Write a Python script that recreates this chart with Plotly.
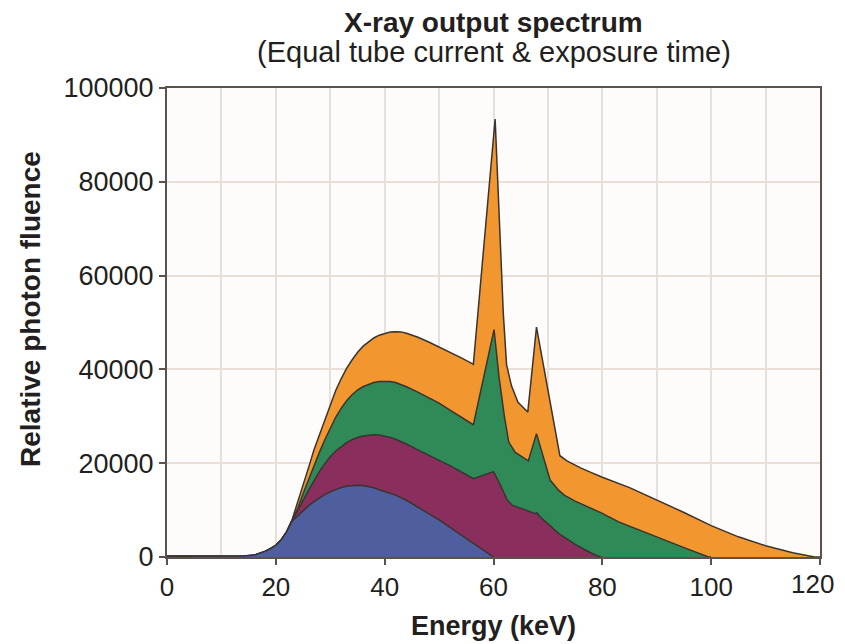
import plotly.graph_objects as go

# Shared low-energy part of all spectra (keV, relative photon fluence)
rise_kev = [0, 5, 10, 14, 16, 17, 18, 19, 20, 21, 22]
rise_val = [150, 150, 150, 200, 350, 700, 1200, 1800, 2500, 3700, 5400]

# 120 kVp spectrum (orange)
kv120_kev = [23, 24, 25, 26, 27, 28, 29, 30, 31, 32, 33, 34, 35, 36, 37, 38, 39, 40, 41, 42, 43, 44, 46, 48, 50,
             52, 54, 56, 56.3, 60.3, 61.2, 61.8, 62.4, 63.3, 64.5, 66.3, 67.9, 72.2, 73.5, 76, 78, 80, 85, 90, 95,
             100, 105, 110, 115, 119, 120]
kv120_val = [8000, 11500, 15500, 19000, 22800, 26000, 29300, 32500, 35500, 38000, 40200, 42000, 43600, 44900, 45900,
             46700, 47300, 47700, 47950, 48050, 48000, 47700, 46900, 45900, 44800, 43700, 42500, 41300, 41100, 93400,
             69000, 52000, 41000, 36500, 33000, 30900, 49000, 21600, 20500, 19000, 18000, 17000, 14800, 12200, 9500,
             6700, 4300, 2400, 900, 0, 0]

# 100 kVp spectrum (green)
kv100_kev = [23, 24, 25, 26, 27, 28, 29, 30, 31, 32, 33, 34, 35, 36, 37, 38, 39, 40, 41, 42, 44, 46, 48, 50, 52,
             54, 56, 56.3, 60.1, 61, 62, 62.8, 64, 66.4, 67.9, 70.4, 72, 73, 75, 78, 80, 83, 90, 95, 99.5, 100]
kv100_val = [7800, 10300, 13500, 16500, 19500, 22300, 25000, 27500, 29800, 31700, 33300, 34600, 35600, 36300, 36800,
             37200, 37400, 37450, 37400, 37200, 36300, 35200, 34000, 32800, 31300, 29900, 28400, 28200, 48500,
             38500, 30000, 24500, 22300, 20500, 26300, 16400, 14200, 13200, 11900, 10300, 9300, 7500, 4200, 2000,
             0, 0]

# 80 kVp spectrum (purple)
kv80_kev = [23, 24, 25, 26, 27, 28, 29, 30, 31, 32, 33, 34, 35, 36, 37, 38, 39, 40, 41, 42, 44, 46, 48, 50, 52,
            54, 56, 56.3, 60, 61, 62.5, 63.5, 66, 67.5, 68, 68.6, 70, 72, 75, 78, 79.6, 80]
kv80_val = [7800, 9800, 12000, 14200, 16300, 18200, 19900, 21400, 22600, 23600, 24400, 25000, 25500, 25800, 26000,
            26050, 26000, 25800, 25500, 25100, 24100, 22900, 21700, 20600, 19500, 18200, 16900, 16700, 18200, 16000,
            12200, 11000, 10000, 9300, 9400, 8500, 7100, 5000, 2700, 800, 0, 0]

# 60 kVp spectrum (blue)
kv60_kev = [23, 24, 25, 26, 27, 28, 29, 30, 31, 32, 33, 34, 35, 36, 37, 38, 39, 40, 42, 44, 46, 48, 50, 52, 54,
            56, 58, 60]
kv60_val = [7700, 8800, 9900, 10900, 11800, 12600, 13300, 13900, 14400, 14800, 15100, 15250, 15300, 15250, 15050,
            14750, 14350, 14000, 13200, 12100, 10700, 9300, 7900, 6300, 4700, 3100, 1500, 0]

x_ticks = [0, 20, 40, 60, 80, 100, 120]
# the last label is drawn as an annotation nudged inward so it is not clipped
x_tick_text = ["0", "20", "40", "60", "80", "100", ""]
x_last_label = "120"
y_ticks = [0, 20000, 40000, 60000, 80000, 100000]
y_tick_text = ["0", "20000", "40000", "60000", "80000", "100000"]

series = [
    ("120 kVp", kv120_kev, kv120_val, "#F2962F"),
    ("100 kVp", kv100_kev, kv100_val, "#2F8A57"),
    ("80 kVp", kv80_kev, kv80_val, "#8A2E5E"),
    ("60 kVp", kv60_kev, kv60_val, "#4F5E9F"),
]

fig = go.Figure()
for name, xs, ys, col in series:
    fig.add_trace(go.Scatter(
        x=rise_kev + xs, y=rise_val + ys, name=name, mode="lines",
        fill="tozeroy", fillcolor=col,
        line=dict(color="#3a3431", width=1.5),
        showlegend=False,
    ))

FONT = "Liberation Sans, Arial, sans-serif"
axis_col = "#5b524d"
grid_col = "#eaded8"
TXT = "#231f20"

# The page body adds an 8px offset; sized so the page fits the 845x644 window
# with the plot area spanning x 167..820, y 88..557 on screen.
fig.update_layout(
    width=837, height=636,
    margin=dict(l=159, r=25, t=80, b=87, autoexpand=False),
    paper_bgcolor="white",
    plot_bgcolor="#fefcfa",
    font=dict(family=FONT, size=27, color=TXT),
    xaxis=dict(
        range=[0, 120], tickmode="array", tickvals=x_ticks, ticktext=x_tick_text,
        showgrid=True, gridcolor=grid_col, gridwidth=1.5,
        minor=dict(dtick=10, tick0=0, showgrid=True, gridcolor=grid_col, gridwidth=1.5),
        showline=True, linecolor=axis_col, linewidth=2, mirror=True,
        ticks="outside", ticklen=6, tickwidth=2, tickcolor=axis_col,
        zeroline=False, automargin=False,
        title=dict(text="<b>Energy (keV)</b>", font=dict(size=27), standoff=15),
        tickfont=dict(size=26),
    ),
    yaxis=dict(
        range=[0, 100000], tickmode="array", tickvals=y_ticks, ticktext=y_tick_text,
        showgrid=True, gridcolor=grid_col, gridwidth=1.5,
        showline=True, linecolor=axis_col, linewidth=2, mirror=True,
        ticks="outside", ticklen=6, tickwidth=2, tickcolor=axis_col,
        zeroline=False, automargin=False,
        tickfont=dict(size=27),
    ),
    annotations=[
        dict(text="<b>X-ray output spectrum</b>", xref="paper", yref="paper",
             x=0.5, y=(549 - 14) / 469, xanchor="center", yanchor="middle",
             showarrow=False, font=dict(size=28, color=TXT)),
        dict(text="(Equal tube current &amp; exposure time)", xref="paper", yref="paper",
             x=0.5, y=(549 - 44) / 469, xanchor="center", yanchor="middle",
             showarrow=False, font=dict(size=29, color=TXT)),
        dict(text="<b>Relative photon fluence</b>", xref="paper", yref="paper",
             x=(30 - 167) / 653, y=(557 - 309) / 469, xanchor="center", yanchor="middle",
             textangle=-90, showarrow=False, font=dict(size=28, color=TXT)),
        dict(text=x_last_label, xref="x", yref="paper",
             x=x_ticks[-1], y=-27 / 469, xanchor="center", yanchor="middle", xshift=-8,
             showarrow=False, font=dict(size=26, color=TXT)),
    ],
)

fig.write_html("out.html")
